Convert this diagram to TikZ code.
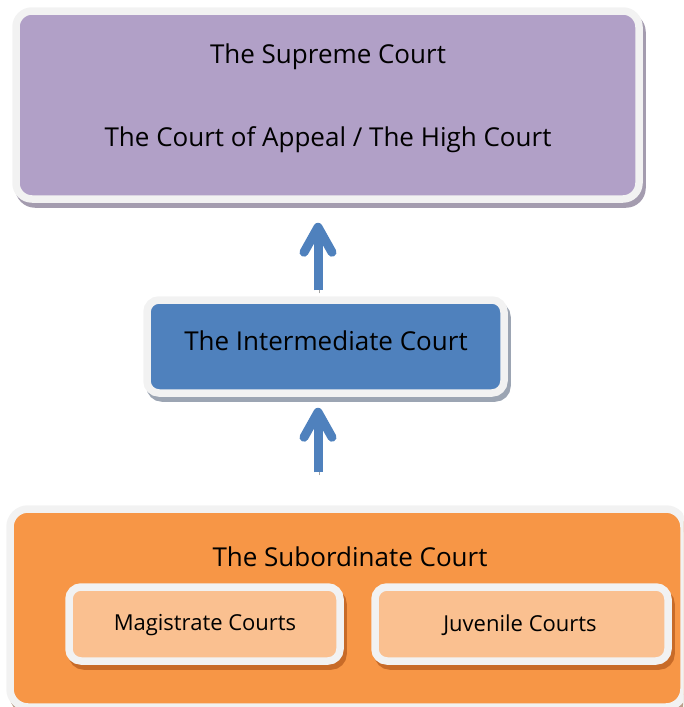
\documentclass[tikz,border=0pt]{standalone}
\usepackage{fontspec}
\setmainfont{Open Sans}
\usetikzlibrary{arrows.meta}

\definecolor{supremefill}{HTML}{B1A0C7}
\definecolor{midfill}{HTML}{4F81BD}
\definecolor{subfill}{HTML}{F79646}
\definecolor{lowfill}{HTML}{FAC090}
\definecolor{rimwhite}{HTML}{F2F2F2}
\definecolor{purpleshade}{HTML}{A49CAF}
\definecolor{blueshade}{HTML}{9CA5B3}
\definecolor{orangeshade}{HTML}{C86B28}
\definecolor{brownshade}{HTML}{BBA08C}
\definecolor{arrowshade}{HTML}{A3A3A3}

\tikzset{
  shadedrop/.style={preaction={draw=#1, fill=#1, transform canvas={shift={(3pt,-5pt)}}}},
  tier/.style={draw=rimwhite, line width=7.5pt, inner sep=0pt},
  bigtext/.style={font=\fontsize{26}{30}\selectfont, text=black, inner sep=0pt},
  smalltext/.style={font=\fontsize{22}{26}\selectfont, text=black, inner sep=0pt},
  uparrow/.style={draw=midfill, line width=9pt,
    -{Straight Barb[length=25pt, width=28pt, round]},
    preaction={draw=arrowshade, transform canvas={shift={(1pt,-3pt)}}}}
}

\begin{document}
\begin{tikzpicture}[x=1pt, y=-1pt]
\useasboundingbox (0,0) rectangle (683,707);
\clip (0,0) rectangle (683,707);

% top tier
\node[tier, shadedrop=purpleshade, fill=supremefill, rounded corners=16pt,
      minimum width=623pt, minimum height=188pt] (supreme) at (327.5,105) {};
\node[bigtext] (supremename) at (328,57) {The Supreme Court};
\node[bigtext] (appealname) at (328,140) {The Court of Appeal / The High Court};

% middle tier
\node[tier, shadedrop=blueshade, fill=midfill, rounded corners=12pt,
      minimum width=357pt, minimum height=93pt] (mid) at (325.5,346.5) {};
\node[bigtext] (midname) at (326,341) {The Intermediate Court};

% bottom tier
\node[tier, shadedrop=brownshade, fill=subfill, rounded corners=18pt,
      minimum width=674pt, minimum height=198pt] (subord) at (347,608) {};
\node[bigtext] (subname) at (350,557) {The Subordinate Court};

\node[tier, shadedrop=orangeshade, fill=lowfill, rounded corners=12pt,
      minimum width=271pt, minimum height=74pt] (magis) at (204.5,624) {};
\node[smalltext] (magisname) at (205,625) {Magistrate Courts};

\node[tier, shadedrop=orangeshade, fill=lowfill, rounded corners=12pt,
      minimum width=293pt, minimum height=74pt] (juven) at (521.5,624) {};
\node[smalltext] (juvenname) at (520,625) {Juvenile Courts};

% appeal arrows, a little left of the middle box's centre
\coordinate (upfoot) at ([xshift=-7.5pt]mid.north);
\coordinate (lowhead) at ([xshift=-7.5pt]mid.south);
\draw[uparrow, shorten <=6pt, shorten >=20pt] (upfoot) -- (upfoot |- supreme.south);
\draw[uparrow, shorten <=33pt, shorten >=11pt] (lowhead |- subord.north) -- (lowhead);
\end{tikzpicture}
\end{document}
